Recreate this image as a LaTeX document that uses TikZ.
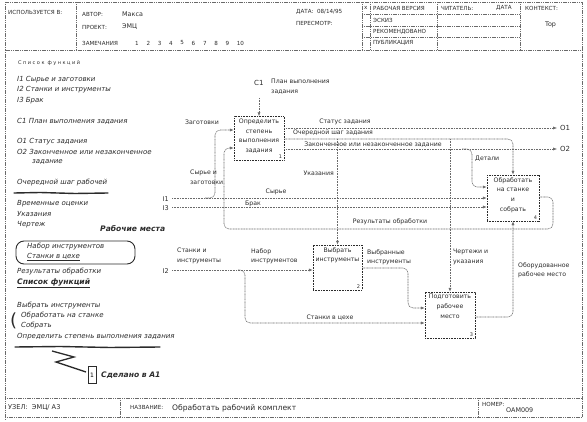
\documentclass[tikz,border=0pt]{standalone}
\usepackage{fontspec}
\setmainfont{DejaVu Sans}
\usetikzlibrary{arrows.meta}
\definecolor{EMLine}{HTML}{6A6A6A}
\definecolor{EMInk}{HTML}{2B2B2B}

\begin{document}
\begin{tikzpicture}[x=1pt,y=-1pt,
  frame/.style={EMLine,line width=0.6pt,dash pattern=on 1.2pt off 0.6pt},
  fnbox/.style={draw=EMInk,line width=0.6pt,dash pattern=on 1pt off 0.6pt,minimum width=50pt,minimum height=44pt,inner sep=0pt},
  fntext/.style={anchor=north,align=center,inner sep=2.5pt,text=EMInk,font=\fontsize{6.2}{9.6}\selectfont},
  fnnum/.style={anchor=south east,inner sep=2pt,text=EMInk,font=\fontsize{5}{5}\selectfont},
  flow/.style={EMLine,line width=0.55pt,dash pattern=on 1pt off 0.6pt,rounded corners=5pt},
  tip/.style={-{Latex[length=3.8pt,width=3pt]}},
  lbl/.style={font=\fontsize{6.2}{9.5}\selectfont,text=EMInk,inner sep=0pt,align=left},
  hdr/.style={font=\fontsize{5.6}{6.5}\selectfont,text=EMInk,inner sep=0pt,anchor=west},
  note/.style={font=\itshape\fontsize{7}{9}\selectfont,text=EMInk,inner sep=0pt,anchor=west},
  ink/.style={font=\bfseries\itshape\fontsize{7.6}{9}\selectfont,text=EMInk,inner sep=0pt,anchor=west},
  scrawl/.style={EMInk,line width=1.4pt,line cap=round}]
\path[use as bounding box] (0,0) rectangle (587,422);

% header
\draw[frame] (5,2) rectangle (582,50);
\draw[frame] (76,2) -- (76,50);
\draw[frame] (362,2) -- (362,50);
\draw[frame] (370,2) -- (370,50);
\draw[frame] (437,2) -- (437,50);
\draw[frame] (520,2) -- (520,50);
\foreach \yy in {14,26,37}
  \draw[frame] (362,\yy) -- (520,\yy);
\node[hdr] (usedat) at (8,12) {ИСПОЛЬЗУЕТСЯ В:};
\node[hdr] (author) at (82,14) {АВТОР:};
\node[hdr,font=\fontsize{6.4}{7}\selectfont] (authorname) at (122,14) {Макса};
\node[hdr] (project) at (82,27) {ПРОЕКТ:};
\node[hdr,font=\fontsize{6.4}{7}\selectfont] (projname) at (122,27) {ЭМЦ};
\node[hdr] (remarks) at (82,43) {ЗАМЕЧАНИЯ};
\foreach \n [count=\i from 0] in {1,...,10}
  \node[hdr] (remark\n) at (135+11.3*\i,43) {\n};
\node[hdr] (date) at (296,12) {ДАТА:\ \ 08/14/95};
\node[hdr] (revision) at (296,23) {ПЕРЕСМОТР:};
\node[hdr] (mark) at (364,8) {x};
\node[hdr] (working) at (373,8) {РАБОЧАЯ ВЕРСИЯ};
\node[hdr] (draft) at (373,20) {ЭСКИЗ};
\node[hdr] (recommended) at (373,32) {РЕКОМЕНДОВАНО};
\node[hdr] (publication) at (373,43) {ПУБЛИКАЦИЯ};
\node[hdr] (reader) at (441,8) {ЧИТАТЕЛЬ:};
\node[hdr] (readerdate) at (496,8) {ДАТА};
\node[hdr] (context) at (525,8) {КОНТЕКСТ:};
\node[hdr,font=\fontsize{6.4}{7}\selectfont] (top) at (545,25) {Top};

% frame and footer
\draw[frame] (5,50) -- (5,420);
\draw[frame] (582,50) -- (582,417);
\draw[frame] (5,398) -- (582,398);
\draw[frame] (5,417) -- (582,417);
\draw[frame] (120,398) -- (120,417);
\draw[frame] (478,398) -- (478,417);
\node[hdr,font=\fontsize{6.6}{7}\selectfont] (nodeid) at (8,408) {УЗЕЛ:\ \ ЭМЦ/ А3};
\node[hdr] (title) at (130,407) {НАЗВАНИЕ:};
\node[hdr,font=\fontsize{7.6}{8}\selectfont] (titletext) at (172,408) {Обработать рабочий комплект};
\node[hdr] (number) at (482,404) {НОМЕР:};
\node[hdr,font=\fontsize{6.4}{7}\selectfont] (numbertext) at (506,410) {OAM009};

% notes on the left
\node[hdr,font=\addfontfeatures{LetterSpace=30}\fontsize{5}{6}\selectfont] (arrowlist) at (18,63) {Список функций};
\node[note] (i1note) at (17,80) {I1 Сырье и заготовки};
\node[note] (i2note) at (17,90) {I2 Станки и инструменты};
\node[note] (i3note) at (17,101) {I3 Брак};
\node[note] (c1note) at (17,121) {C1 План выполнения задания};
\node[note] (o1note) at (17,142) {O1 Статус задания};
\node[note] (o2note) at (17,152) {O2 Законченное или незаконченное};
\node[note] (o2more) at (32,162) {задание};
\node[note] (nextnote) at (17,183) {Очередной шаг рабочей};
\draw[scrawl] (14,193) -- (40,192.5) -- (75,193.5) -- (108,193);
\node[note] (timenote) at (17,204) {Временные оценки};
\node[note] (hintnote) at (17,214) {Указания};
\node[note] (drawnote) at (17,225) {Чертеж};
\node[ink] (workplaces) at (100,229) {Рабочие места};
\draw[EMInk,line width=0.9pt,rounded corners=8pt] (16,241) rectangle (135,264);
\node[note] (toolnote) at (27,247) {Набор инструментов};
\node[note] (shopnote) at (27,257) {\underline{Станки в цехе}};
\node[note] (resultnote) at (17,272) {Результаты обработки};
\node[ink] (funclist) at (17,283) {\underline{Список функций}};
\node[note] (f1note) at (17,306) {Выбрать инструменты};
\node[note] (f2note) at (21,316) {Обработать на станке};
\node[note] (f3note) at (21,326) {Собрать};
\node[ink,font=\fontsize{18}{18}\selectfont] (brace) at (10,321) {(};
\node[note] (f4note) at (17,337) {Определить степень выполнения задания};
\draw[scrawl] (15,347) -- (60,346.5) -- (110,347.5) -- (160,347);
\draw[EMInk,line width=1.3pt] (52,351) -- (74,357) -- (56,362) -- (86,372);
\node[draw=EMInk,line width=0.8pt,minimum width=8pt,minimum height=17pt,inner sep=0pt,font=\fontsize{6}{7}\selectfont] (refbox) at (92,375) {1};
\node[ink] (refnote) at (101,375) {Сделано в А1};

% function boxes
\node[fnbox] (fn1) at (259,138.5) {};
\node[fntext] (fn1txt) at (fn1.north) {Определить\\степень\\выполнения\\задания};
\node[fnnum] (fn1num) at (fn1.south east) {1};
\node[fnbox,minimum width=49pt,minimum height=45pt] (fn2) at (337.5,267.5) {};
\node[fntext] (fn2txt) at (fn2.north) {Выбрать\\инструменты};
\node[fnnum] (fn2num) at (fn2.south east) {2};
\node[fnbox,minimum height=46pt] (fn3) at (450,315) {};
\node[fntext] (fn3txt) at (fn3.north) {Подготовить\\рабочее\\место};
\node[fnnum] (fn3num) at (fn3.south east) {3};
\node[fnbox,minimum width=52pt,minimum height=46pt] (fn4) at (513,198) {};
\node[fntext] (fn4txt) at (fn4.north) {Обработать\\на станке\\и\\собрать};
\node[fnnum] (fn4num) at (fn4.south east) {4};

% boundary ends
\coordinate (c1in) at (259,98);
\coordinate (o1out) at (557,128);
\coordinate (o2out) at (557,149);
\coordinate (i1in) at (172,198);
\coordinate (i3in) at (172,207);
\coordinate (i2in) at (172,270);

% arrows
\draw[flow,tip] (c1in) -- (fn1.north);
\draw[flow,tip] (fn1.east |- o1out) -- (o1out);
\draw[flow,tip] (fn1.east |- 0,139) -| (fn4.north);
\draw[flow,tip] (fn3.north |- 0,139) -- (fn3.north);
\draw[flow,tip] (fn2.north |- 0,139) -- (fn2.north);
\draw[flow,tip] (fn1.east |- o2out) -- (o2out);
\draw[flow,tip] (462,149) -| (472,187) -- (fn4.west |- 0,187);
\draw[flow,tip] (i1in) -- (fn4.west |- i1in);
\draw[flow,tip] (205,198) -| (215,130) -- (fn1.west |- 0,130);
\draw[flow,tip] (i3in) -- (fn4.west |- i3in);
\draw[flow,tip] (fn4.east |- 0,197) -| (553,229) -| (224,148) -- (fn1.west |- 0,148);
\draw[flow,tip] (i2in) -- (fn2.west |- i2in);
\draw[flow,tip] (238,270) -| (245,323) -- (fn3.west |- 0,323);
\draw[flow,tip] (fn2.east |- 0,268) -| (408,308) -- (fn3.west |- 0,308);
\draw[flow,tip] (fn3.east |- 0,317) -| (fn4.south);

% arrow labels
\node[lbl,anchor=west,font=\fontsize{7}{8}\selectfont] (c1lbl) at (254,83) {C1};
\node[lbl,anchor=north west] (c1txt) at (271,79) {План выполнения\\задания};
\node[lbl] (statuslbl) at (345,122) {Статус задания};
\node[lbl] (nextlbl) at (333,132.5) {Очередной шаг задания};
\node[lbl] (donelbl) at (373,144.5) {Законченное или незаконченное задание};
\node[lbl,anchor=west,font=\fontsize{7}{8}\selectfont] (o1lbl) at (560,128) {O1};
\node[lbl,anchor=west,font=\fontsize{7}{8}\selectfont] (o2lbl) at (560,149) {O2};
\node[lbl] (blanklbl) at (202,122) {Заготовки};
\node[lbl,anchor=west] (rawlbl) at (190,177) {Сырье и\\заготовки};
\node[lbl,anchor=east,font=\fontsize{6.5}{7}\selectfont] (i1lbl) at (169,199) {I1};
\node[lbl,anchor=east,font=\fontsize{6.5}{7}\selectfont] (i3lbl) at (169,208) {I3};
\node[lbl,anchor=east,font=\fontsize{6.5}{7}\selectfont] (i2lbl) at (169,271) {I2};
\node[lbl] (rawmat) at (276,192) {Сырье};
\node[lbl,anchor=west] (scraplbl) at (245,204) {Брак};
\node[lbl,anchor=east] (hintlbl) at (334,173) {Указания};
\node[lbl,anchor=west] (partslbl) at (475,159) {Детали};
\node[lbl] (resultlbl) at (390,222) {Результаты обработки};
\node[lbl,anchor=west] (machlbl) at (177,256) {Станки и\\инструменты};
\node[lbl,anchor=west] (setlbl) at (251,256) {Набор\\инструментов};
\node[lbl,anchor=west] (selectedlbl) at (367,257) {Выбранные\\инструменты};
\node[lbl,anchor=west] (drawinglbl) at (453,257) {Чертежи и\\указания};
\node[lbl,anchor=west] (equippedlbl) at (518,270) {Оборудованное\\рабочее место};
\node[lbl] (shoplbl) at (330,318) {Станки в цехе};
\end{tikzpicture}
\end{document}
